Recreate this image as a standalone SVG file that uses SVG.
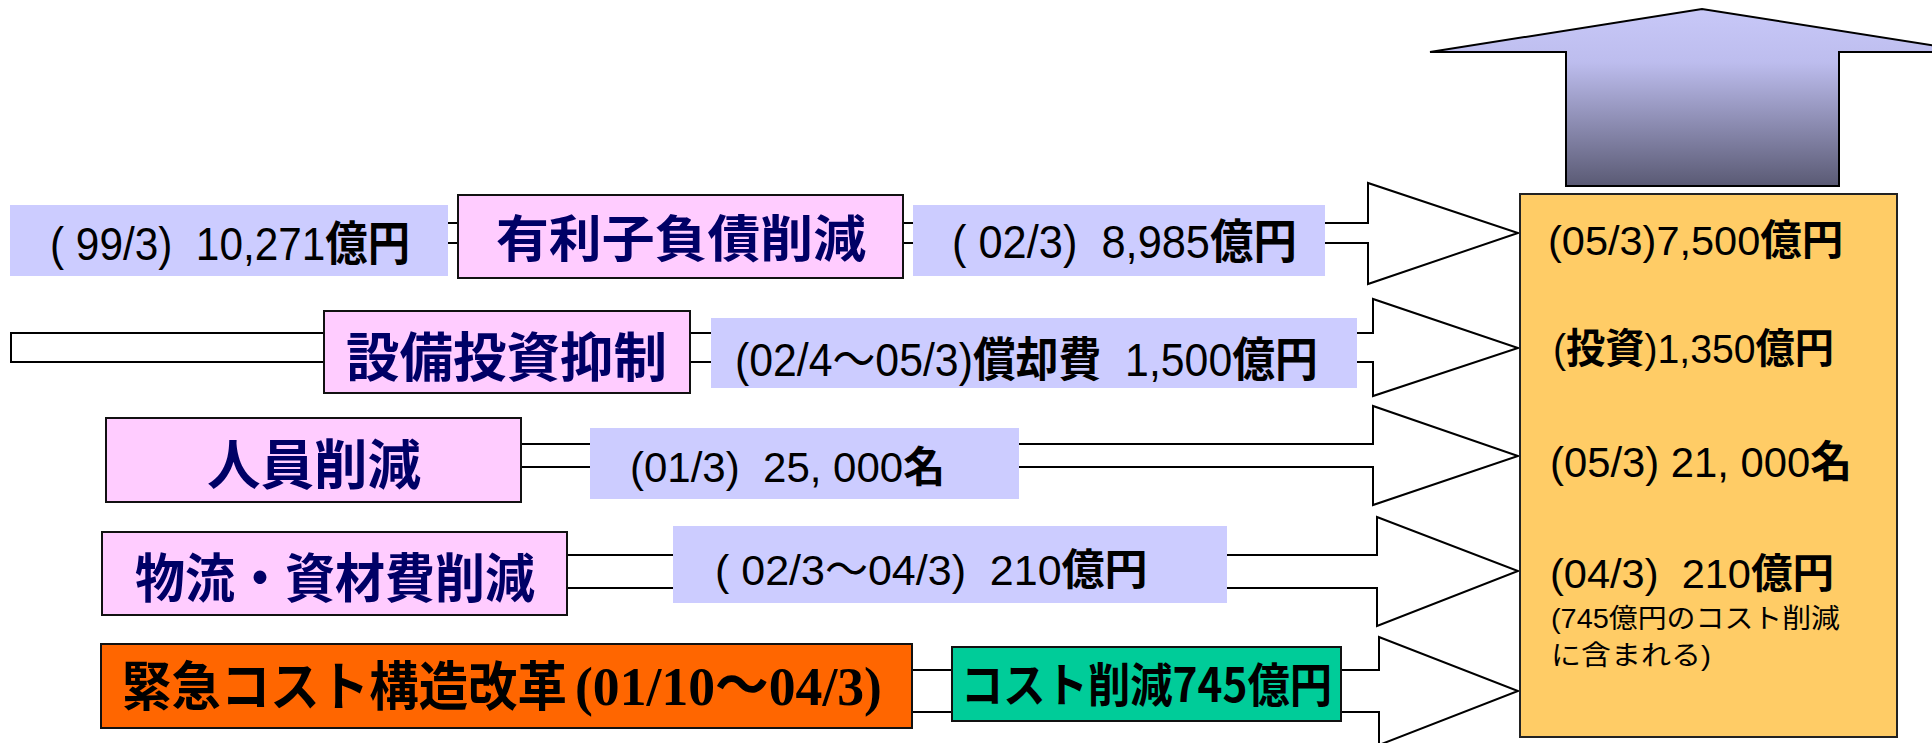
<svg xmlns="http://www.w3.org/2000/svg" width="1932" height="743" viewBox="0 0 1932 743">
<defs>
<linearGradient id="upg" gradientUnits="userSpaceOnUse" x1="0" y1="9" x2="0" y2="186">
<stop offset="0" stop-color="#C8C8F8"/>
<stop offset="0.3" stop-color="#BDBDEE"/>
<stop offset="1" stop-color="#5A5A74"/>
</linearGradient>
<style>
.arr{fill:#FFFFFF;stroke:#000;stroke-width:2;stroke-linejoin:miter}
.blue{fill:#CCCCFF}
.pink{fill:#FFCCFF;stroke:#111;stroke-width:2}
.org{fill:#FF6600;stroke:#111;stroke-width:2}
.grn{fill:#00CC99;stroke:#111;stroke-width:2}
.big{fill:#FFCC66;stroke:#222;stroke-width:2}
text{white-space:pre}
.t{font-family:"Liberation Sans","Noto Sans CJK JP",sans-serif;fill:#000}
.b{font-weight:bold}
.pt{font-family:"Noto Sans CJK JP",sans-serif;font-weight:bold;fill:#000066}
.kt{font-family:"Noto Sans CJK JP",sans-serif;font-weight:bold;fill:#000}
.st{font-family:"Liberation Serif","Noto Sans CJK JP",serif;font-weight:bold;fill:#000}
</style>
</defs>
<g id="up-arrow">
<polygon points="1430,52 1702,9 1974,52 1839,52 1839,186 1566,186 1566,52" fill="url(#upg)" stroke="#000" stroke-width="2"/>
</g>
<g id="connectors">
<polygon class="arr" points="20,223 1368,223 1368,183 1518,233 1368,284 1368,243 20,243"/>
<polygon class="arr" points="11,333 1373,333 1373,299 1518,348 1373,396 1373,362 11,362"/>
<polygon class="arr" points="300,444 1373,444 1373,406 1518,456 1373,505 1373,467 300,467"/>
<polygon class="arr" points="300,555 1377,555 1377,517 1518,571 1377,626 1377,588 300,588"/>
<polygon class="arr" points="300,670 1379,670 1379,637 1518,691 1379,745 1379,712 300,712"/>
</g>
<g id="result">
<rect class="big" x="1520" y="194" width="377" height="543"/>
<text xml:space="preserve" class="t" transform="translate(1548,255)" x="0" y="0" font-size="41.5">(05/3)7,500<tspan class="b">億円</tspan></text>
<text xml:space="preserve" class="t" transform="translate(1553,363) scale(0.956,1)" x="0" y="0" font-size="41">(<tspan class="b">投資</tspan>)1,350<tspan class="b">億円</tspan></text>
<text xml:space="preserve" class="t" transform="translate(1550,477) scale(0.972,1)" x="0" y="0" font-size="43">(05/3) 21, 000<tspan class="b">名</tspan></text>
<text xml:space="preserve" class="t" transform="translate(1550,588) scale(1.014,1)" x="0" y="0" font-size="41">(04/3)  210<tspan class="b">億円</tspan></text>
<text xml:space="preserve" class="t" x="1551" y="628" font-size="27" textLength="289" lengthAdjust="spacingAndGlyphs">(745億円のコスト削減</text>
<text xml:space="preserve" class="t" x="1551" y="665" font-size="27" textLength="160" lengthAdjust="spacingAndGlyphs">に含まれる)</text>
</g>
<g id="debt-before">
<rect class="blue" x="10" y="205" width="438" height="71"/>
<text xml:space="preserve" class="t" transform="translate(50,260) scale(0.9007,1)" x="0" y="0" font-size="47">( 99/3)  10,271<tspan class="b">億円</tspan></text>
</g>
<g id="debt">
<rect class="pink" x="458" y="195" width="445" height="83"/>
<text class="pt" x="496" y="257" font-size="50" textLength="370" lengthAdjust="spacingAndGlyphs">有利子負債削減</text>
</g>
<g id="debt-after">
<rect class="blue" x="913" y="205" width="412" height="71"/>
<text xml:space="preserve" class="t" transform="translate(952,258) scale(0.923,1)" x="0" y="0" font-size="47">( 02/3)  8,985<tspan class="b">億円</tspan></text>
</g>
<g id="capex">
<rect class="pink" x="324" y="311" width="366" height="82"/>
<text class="pt" x="346" y="377" font-size="53" textLength="321" lengthAdjust="spacingAndGlyphs">設備投資抑制</text>
</g>
<g id="capex-value">
<rect class="blue" x="711" y="318" width="646" height="70"/>
<text xml:space="preserve" class="t" transform="translate(735,376) scale(0.911,1)" x="0" y="0" font-size="47">(02/4～05/3)<tspan class="b">償却費</tspan>  1,500<tspan class="b">億円</tspan></text>
</g>
<g id="staff">
<rect class="pink" x="106" y="418" width="415" height="84"/>
<text class="pt" x="207" y="485" font-size="54" textLength="214" lengthAdjust="spacingAndGlyphs">人員削減</text>
</g>
<g id="staff-value">
<rect class="blue" x="590" y="428" width="429" height="71"/>
<text xml:space="preserve" class="t" transform="translate(630,482)" x="0" y="0" font-size="42">(01/3)  25, 000<tspan class="b">名</tspan></text>
</g>
<g id="logistics">
<rect class="pink" x="102" y="532" width="465" height="83"/>
<text class="pt" x="135" y="598" font-size="53" textLength="400" lengthAdjust="spacingAndGlyphs">物流・資材費削減</text>
</g>
<g id="logistics-value">
<rect class="blue" x="673" y="526" width="554" height="77"/>
<text xml:space="preserve" class="t" transform="translate(715,585)" x="0" y="0" font-size="43">( 02/3～04/3)  210<tspan class="b">億円</tspan></text>
</g>
<g id="emergency">
<rect class="org" x="101" y="644" width="811" height="84"/>
<text class="kt" x="122" y="706" font-size="53" textLength="445" lengthAdjust="spacingAndGlyphs">緊急コスト構造改革</text>
<text class="st" x="575" y="705" font-size="54" textLength="307" lengthAdjust="spacingAndGlyphs">(01/10～04/3)</text>
</g>
<g id="cost-cut">
<rect class="grn" x="952" y="647" width="389" height="74"/>
<text class="kt" x="961" y="702" font-size="47" textLength="371" lengthAdjust="spacingAndGlyphs">コスト削減745億円</text>
</g>
</svg>
